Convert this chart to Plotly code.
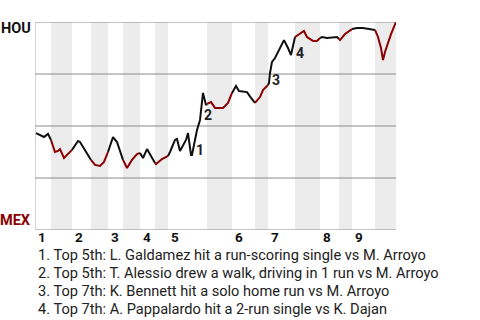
import plotly.graph_objects as go

# game progress (x) and Houston win probability in % (y)
progress = [1, 5, 9, 13, 16, 18, 20, 23, 25, 29, 33, 37, 41, 43, 45, 48, 51, 56, 60, 65,
            69, 73, 75, 78, 82, 87, 88, 92, 97, 102, 105, 108, 112, 117, 120, 121, 127, 133,
            135, 140, 142, 145, 151, 153, 156, 157, 162, 165, 168, 171, 172, 176, 180, 188,
            193, 197, 201, 204, 212, 216, 220, 225, 228, 233, 234, 235, 237, 240, 243, 246,
            249, 253, 256, 260, 266, 269, 272, 278, 282, 285, 287, 292, 298, 302, 304, 305,
            310, 313, 317, 322, 328, 335, 340, 343, 346, 348, 350, 353, 356, 361]
hou_wp = [46.6, 45.7, 44.7, 46.2, 43.3, 40.4, 37.5, 38.0, 38.9, 34.6, 36.5, 38.5, 41.8, 42.8,
          42.3, 39.9, 37.5, 33.7, 31.3, 30.8, 32.7, 37.5, 40.9, 44.7, 42.3, 35.1, 33.7, 29.8,
          33.7, 36.5, 37.0, 34.6, 38.9, 34.6, 32.2, 31.7, 34.1, 35.6, 37.5, 43.3, 43.8, 38.0,
          43.3, 46.6, 36.1, 36.1, 48.1, 52.9, 65.9, 60.1, 60.6, 61.5, 58.7, 58.7, 61.1, 65.9,
          69.2, 66.8, 66.3, 63.5, 61.1, 63.9, 67.3, 69.7, 70.7, 75.5, 80.8, 82.7, 85.6, 88.9,
          91.3, 87.5, 84.1, 92.8, 94.7, 95.7, 92.8, 90.9, 90.9, 92.3, 92.8, 92.3, 92.8, 92.8,
          91.8, 91.3, 94.2, 95.2, 96.6, 97.1, 97.1, 96.6, 96.2, 92.8, 87.5, 81.7, 85.6, 89.9,
          94.2, 100.0]

# half-inning boundaries (top 1, bottom 1, top 2, ...)
half_bounds = [0, 16, 37, 56, 73, 88, 105, 120, 133, 172, 197, 220, 233, 260, 285, 304, 317, 340, 361]
inning_labels = ["1", "2", "3", "4", "5", "6", "7", "8", "9"]

# key events: marker label, progress, wp, description
event_nums = ["1", "2", "3", "4"]
event_x = [165, 173, 241, 265]
event_y = [38.5, 55.3, 72.1, 85.1]
event_text = [
    "1. Top 5th: L. Galdamez hit a run-scoring single vs M. Arroyo",
    "2. Top 5th: T. Alessio drew a walk, driving in 1 run vs M. Arroyo",
    "3. Top 7th: K. Bennett hit a solo home run vs M. Arroyo",
    "4. Top 7th: A. Pappalardo hit a 2-run single vs K. Dajan",
]

AWAY_COL = "#111111"
HOME_COL = "#8b0000"
GRID = "#8a8a8a"
FONT = "Roboto"

fig = go.Figure()
shapes = []

# shaded bottom halves
for i in range(len(half_bounds) - 1):
    if i % 2 == 1:
        shapes.append(dict(type="rect", xref="x", yref="y", x0=half_bounds[i], x1=half_bounds[i + 1],
                           y0=0, y1=100, fillcolor="#ececec", line=dict(width=0), layer="below"))

# horizontal grid lines
for gv in [0, 25, 50, 75, 100]:
    shapes.append(dict(type="line", xref="x", yref="y", x0=0, x1=half_bounds[-1], y0=gv, y1=gv,
                       line=dict(color=GRID, width=1), layer="below"))
shapes.append(dict(type="line", xref="x", yref="y", x0=0, x1=0, y0=0, y1=100,
                   line=dict(color="#aaaaaa", width=1), layer="below"))

# line segments per half inning
for i in range(len(half_bounds) - 1):
    lo, hi = half_bounds[i], half_bounds[i + 1]
    xs = [x for x in progress if lo <= x <= hi]
    ys = [y for x, y in zip(progress, hou_wp) if lo <= x <= hi]
    fig.add_trace(go.Scatter(x=xs, y=ys, mode="lines",
                             line=dict(color=AWAY_COL if i % 2 == 0 else HOME_COL, width=2),
                             hoverinfo="skip", showlegend=False))

annotations = []
annotations.append(dict(text="<b>HOU</b>", x=-0.005, y=97.1, xref="paper", yref="y", xanchor="right",
                        yanchor="middle", showarrow=False, font=dict(family=FONT, size=14.5, color="#111")))
annotations.append(dict(text="<b>MEX</b>", x=-0.005, y=4.8, xref="paper", yref="y", xanchor="right",
                        yanchor="middle", showarrow=False, font=dict(family=FONT, size=14.5, color=HOME_COL)))

for k, lab in enumerate(inning_labels):
    annotations.append(dict(text="<b>" + lab + "</b>", x=half_bounds[2 * k] + 0.5, y=-0.034, xref="x",
                            yref="paper", xanchor="left", yanchor="middle", showarrow=False,
                            font=dict(family=FONT, size=13.5, color="#111")))

for n, ex, ey in zip(event_nums, event_x, event_y):
    annotations.append(dict(text="<b>" + n + "</b>", x=ex, y=ey, xref="x", yref="y", xanchor="center",
                            yanchor="middle", showarrow=False, font=dict(family=FONT, size=14, color="#222")))

for j, t in enumerate(event_text):
    annotations.append(dict(text=t, x=1, y=-0.120 - 0.0865 * j, xref="x", yref="paper", xanchor="left",
                            yanchor="middle", showarrow=False, font=dict(family=FONT, size=14.6, color="#222")))

fig.update_layout(
    width=480, height=320,
    margin=dict(l=35, r=84, t=22, b=90),
    paper_bgcolor="white", plot_bgcolor="white",
    xaxis=dict(range=[0, half_bounds[-1]], visible=False, fixedrange=True),
    yaxis=dict(range=[0, 100], visible=False, fixedrange=True),
    shapes=shapes,
    annotations=annotations,
    showlegend=False,
)

fig.write_html("out.html")
